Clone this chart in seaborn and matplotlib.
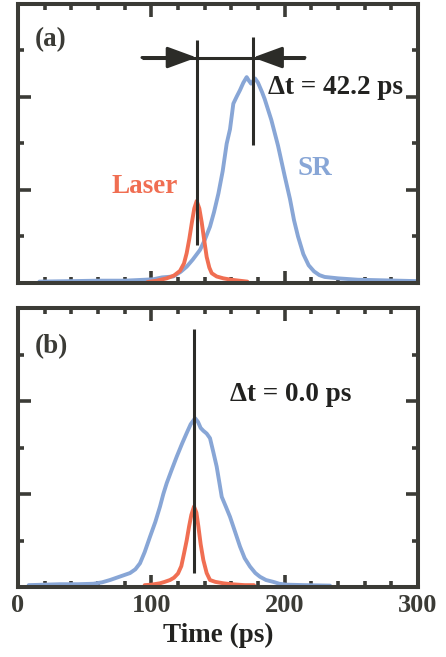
import numpy as np
import pandas as pd
import matplotlib
matplotlib.use("Agg")
import matplotlib.pyplot as plt
from matplotlib.ticker import MultipleLocator, NullFormatter
import seaborn as sns

sns.set_style("ticks")
plt.rcParams['font.family'] = ['Liberation Serif', 'DejaVu Serif']
plt.rcParams['font.weight'] = 'bold'
plt.rcParams['axes.labelweight'] = 'bold'

# ---- data, time in ps, intensity in arb. units ----
sr_a_t = [16, 40, 60, 80, 95, 101.5, 108, 116.5, 122, 126.5, 131, 136.5, 140, 144, 147,
          150.3, 153.5, 156.5, 159, 161.5, 164, 166.5, 169, 171.5, 173, 174.8, 177.8, 180,
          183, 185, 190, 195, 200, 204, 207, 210, 214, 218, 222, 226, 230, 240, 255, 270,
          285, 300]
sr_a_v = [0.03, 0.04, 0.05, 0.05, 0.07, 0.08, 0.12, 0.14, 0.24, 0.35, 0.5, 0.71, 0.92, 1.21,
          1.52, 1.92, 2.4, 2.99, 3.3, 3.85, 4.0, 4.14, 4.3, 4.42, 4.35, 4.28, 4.39, 4.3,
          4.1, 3.95, 3.5, 2.95, 2.3, 1.8, 1.35, 1.0, 0.62, 0.38, 0.25, 0.17, 0.13, 0.1, 0.07,
          0.06, 0.05, 0.04]

laser_a_t = [97, 104, 111.5, 117, 121.5, 124.5, 126.5, 128.5, 130.3, 132.2, 134, 136, 137.8,
             139.5, 141.5, 143.5, 145.3, 149, 154, 160, 166, 172]
laser_a_v = [0.02, 0.05, 0.1, 0.16, 0.26, 0.42, 0.64, 0.95, 1.28, 1.6, 1.76, 1.6, 1.3,
             0.95, 0.56, 0.33, 0.21, 0.14, 0.1, 0.07, 0.05, 0.03]

sr_b_t = [8, 20, 31.5, 45, 56.5, 63, 69, 76, 84, 88, 91.5, 95, 99, 103, 106.5, 109, 111.5,
          115, 119, 123, 126.5, 129.5, 132.8, 135, 137, 139, 141.5, 144, 146.5, 149, 151,
          152.8, 156, 159, 163, 166.5, 170, 174, 178, 181.5, 186, 191.5, 196, 201.5, 215, 234]
sr_b_v = [0.04, 0.05, 0.06, 0.06, 0.07, 0.1, 0.15, 0.22, 0.3, 0.38, 0.51, 0.75, 1.08, 1.4,
          1.73, 2.0, 2.23, 2.5, 2.8, 3.08, 3.31, 3.5, 3.63, 3.55, 3.42, 3.36, 3.3, 3.2, 2.9,
          2.59, 2.25, 1.94, 1.72, 1.51, 1.17, 0.87, 0.62, 0.44, 0.3, 0.22, 0.15, 0.11, 0.07,
          0.05, 0.04, 0.03]

laser_b_t = [95, 100, 106.5, 110, 114, 117, 120, 122.5, 124.5, 126.5, 128.3, 130, 132, 133.8,
             135.3, 137, 139, 141.5, 144, 148, 154, 160, 165, 170, 177]
laser_b_v = [0.04, 0.05, 0.08, 0.11, 0.15, 0.2, 0.29, 0.45, 0.72, 1.0, 1.3, 1.55, 1.73, 1.6,
             1.3, 0.92, 0.58, 0.3, 0.15, 0.11, 0.08, 0.06, 0.05, 0.04, 0.04]

laser_peak_a = 134.0
delta_a = 42.2
laser_peak_b = 132.3
delta_b = 0.0

SR_COLOR = '#88A6D6'
LASER_COLOR = '#F06E52'
AX_COLOR = '#3B3B36'
LINE_COLOR = '#2C2C28'
FS = 19.5

fig = plt.figure(figsize=(4.46, 6.57), dpi=100)
ax_a = fig.add_axes([18 / 446, 1 - 283 / 657, 400 / 446, 279.5 / 657])
ax_b = fig.add_axes([18 / 446, 1 - 587 / 657, 400 / 446, 279 / 657])


def style_axes(ax, show_x):
    ax.set_xlim(0, 300)
    ax.set_ylim(0, 6)
    ax.xaxis.set_major_locator(MultipleLocator(100))
    ax.xaxis.set_minor_locator(MultipleLocator(20))
    ax.yaxis.set_major_locator(MultipleLocator(2))
    ax.yaxis.set_minor_locator(MultipleLocator(1))
    ax.yaxis.set_major_formatter(NullFormatter())
    if not show_x:
        ax.xaxis.set_major_formatter(NullFormatter())
    for s in ax.spines.values():
        s.set_linewidth(2.9)
        s.set_color(AX_COLOR)
    ax.tick_params(which='both', direction='in', top=True, right=True,
                   color=AX_COLOR, width=2.6)
    ax.tick_params(which='major', length=9, labelsize=FS - 0.5, pad=5,
                   labelcolor=AX_COLOR)
    ax.tick_params(which='minor', length=4.5)
    ax.set_xlabel('')
    ax.set_ylabel('')


def draw_curves(ax, sr_t, sr_v, la_t, la_v):
    sr = pd.DataFrame({'t': sr_t, 'v': sr_v})
    la = pd.DataFrame({'t': la_t, 'v': la_v})
    sns.lineplot(data=sr, x='t', y='v', ax=ax, color=SR_COLOR, lw=2.8, sort=False)
    sns.lineplot(data=la, x='t', y='v', ax=ax, color=LASER_COLOR, lw=2.8, sort=False)


# ---- panel (a) ----
draw_curves(ax_a, sr_a_t, sr_a_v, laser_a_t, laser_a_v)
x1 = laser_peak_a
x2 = laser_peak_a + delta_a
ax_a.vlines(x1, 0.81, 5.21, color=LINE_COLOR, lw=2.2)
ax_a.vlines(x2, 2.96, 5.29, color=LINE_COLOR, lw=2.2)
arrow_y = 4.84
ax_a.hlines(arrow_y, x1 - 41, x2 + 39, color=LINE_COLOR, lw=2.2)
for tip, tail in [(x1, x1 - 41), (x2, x2 + 39)]:
    ax_a.annotate('', xy=(tip, arrow_y), xytext=(tail, arrow_y),
                  arrowprops=dict(arrowstyle='-|>,head_length=1.8,head_width=0.66',
                                  color=LINE_COLOR, lw=2.2, shrinkA=0, shrinkB=0,
                                  mutation_scale=10))
ax_a.text(187.5, 4.2, '\u0394t = %.1f ps' % delta_a, fontsize=FS,
          color='#222220', va='center', ha='left', fontweight='bold')
ax_a.text(12.7, 5.23, '(a)', fontsize=FS, color=AX_COLOR, va='center', ha='left')
ax_a.text(94.9, 2.08, 'Laser', fontsize=FS, color=LASER_COLOR, va='center', ha='center')
ax_a.text(223, 2.46, 'SR', fontsize=FS, color=SR_COLOR, va='center', ha='center')
style_axes(ax_a, False)

# ---- panel (b) ----
draw_curves(ax_b, sr_b_t, sr_b_v, laser_b_t, laser_b_v)
ax_b.vlines(laser_peak_b + delta_b, 0.3, 5.55, color=LINE_COLOR, lw=2.2)
ax_b.text(159, 4.13, '\u0394t = %.1f ps' % delta_b, fontsize=FS,
          color='#222220', va='center', ha='left', fontweight='bold')
ax_b.text(12.7, 5.18, '(b)', fontsize=FS, color=AX_COLOR, va='center', ha='left')
style_axes(ax_b, True)
ax_b.set_xlabel('Time (ps)', fontsize=FS, color='#222220', labelpad=4,
                fontweight='bold')

fig.savefig('out.png', dpi=100)
